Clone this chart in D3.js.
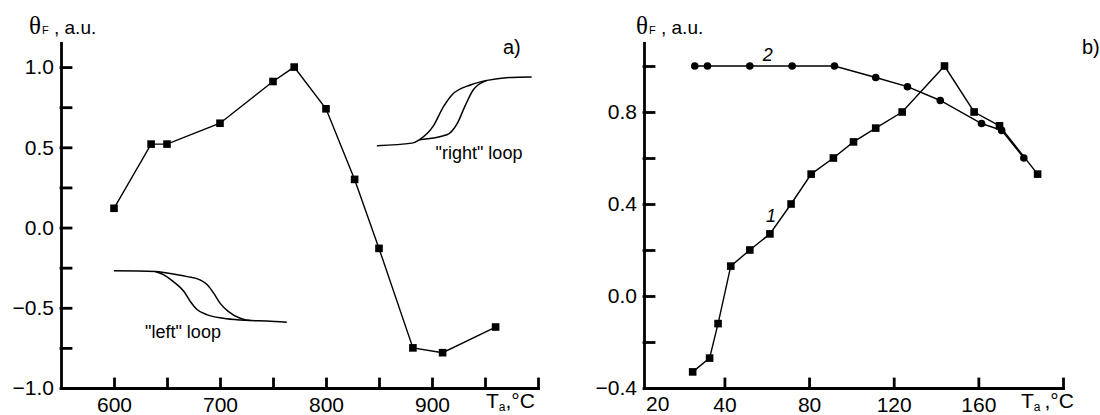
<!DOCTYPE html>
<html>
<head>
<meta charset="utf-8">
<script src="https://cdn.jsdelivr.net/npm/d3@7"></script>
<style>
body { margin: 0; background: #fff; }
svg { display: block; font-family: "Liberation Sans", Arial, sans-serif; }
</style>
</head>
<body>
<svg id="chart" width="1100" height="415"></svg>
<script>

// panel a) : annealing temperature (°C) vs theta_F
var aTemp  = [600, 635, 650, 700, 750, 770, 800, 827, 850, 882, 910, 960];
var aTheta = [0.12, 0.52, 0.52, 0.65, 0.91, 1.0, 0.74, 0.30, -0.13, -0.75, -0.78, -0.62];

// schematic hysteresis loops drawn in panel a) (temp, theta)
var leftLoopOuter  = [[600,-0.270],[639,-0.274],[650,-0.284],[669,-0.306],[681,-0.326],[688,-0.357],[694,-0.409],[700,-0.471],[708,-0.524],[719,-0.565],[729,-0.580],[744,-0.582],[763,-0.590]];
var leftLoopInner  = [[639,-0.274],[647,-0.295],[656,-0.337],[666,-0.399],[672,-0.461],[678,-0.509],[688,-0.544],[703,-0.565],[719,-0.576],[729,-0.580]];
var rightLoopUpper = [[848,0.510],[881,0.526],[888,0.547],[901,0.630],[911,0.755],[919,0.828],[937,0.890],[952,0.917],[970,0.934],[994,0.938]];
var rightLoopLower = [[888,0.547],[914,0.578],[924,0.651],[931,0.755],[939,0.859],[952,0.917]];

var aXTicks  = [600, 650, 700, 750, 800, 850, 900, 950, 1000];
var aXLabels = [600, 700, 800, 900];
var aYTicks  = [-1.0, -0.75, -0.5, -0.25, 0, 0.25, 0.5, 0.75, 1.0];
var aYLabels = [-1.0, -0.5, 0, 0.5, 1.0];

// panel b)
var bTemp1  = [25, 33, 37, 43, 52, 61.5, 71.5, 81, 91.5, 101, 111.5, 124, 144, 158, 170, 188];
var bTheta1 = [-0.33, -0.27, -0.12, 0.13, 0.20, 0.27, 0.40, 0.53, 0.60, 0.67, 0.73, 0.80, 1.0, 0.80, 0.74, 0.53];
var bTemp2  = [26, 32, 52, 72, 92, 111.5, 126.5, 142, 161.5, 171, 181.5];
var bTheta2 = [1.0, 1.0, 1.0, 1.0, 1.0, 0.95, 0.91, 0.85, 0.75, 0.72, 0.60];

var bXTicks  = [40, 80, 120, 160, 200];
var bXLabels = [40, 80, 120, 160];
var bOriginLabel = "20";
var bYTicks  = [-0.4, -0.2, 0, 0.2, 0.4, 0.6, 0.8, 1.0];
var bYLabels = [-0.4, 0, 0.4, 0.8];

var svg = d3.select("#chart");

function drawAxes(g, x, y, xTicks, xLabels, yTicks, yLabels, yFmt) {
	var y0 = y.range()[0];
	var x0 = x.range()[0];

	var xa = g.append("g")
		.attr("transform", "translate(0," + y0 + ")")
		.call(d3.axisBottom(x).tickValues(xTicks).tickSize(-9).tickSizeOuter(0).tickPadding(9)
			.tickFormat(function(d) { return xLabels.indexOf(d) >= 0 ? d : ""; }));

	var ya = g.append("g")
		.attr("transform", "translate(" + x0 + ",0)")
		.call(d3.axisLeft(y).tickValues(yTicks).tickSize(-10).tickSizeOuter(0).tickPadding(7)
			.tickFormat(function(d) { return yLabels.indexOf(d) >= 0 ? yFmt(d) : ""; }));

	[xa, ya].forEach(function(a) {
		a.attr("font-family", null).attr("font-size", 21);
		a.selectAll("path, line").attr("stroke", "#000").attr("stroke-width", 2.8).attr("stroke-linecap", "square");
		a.selectAll("text").attr("fill", "#000");
	});
}

function axisTitle(g, xPos) {
	var t = g.append("text").attr("x", xPos).attr("y", 34).attr("fill", "#000");
	t.append("tspan").attr("font-family", "Liberation Serif, serif").attr("font-size", 25).text("θ");
	t.append("tspan").attr("font-size", 11).attr("dx", 1).text("F");
	t.append("tspan").attr("font-size", 19).text(" , a.u.");
}

function tempLabel(g, xPos, gap) {
	var t = g.append("text").attr("x", xPos).attr("y", 408).attr("fill", "#000").attr("font-size", 21);
	t.append("tspan").text("T");
	t.append("tspan").attr("font-size", 12).attr("dy", 3).text("a");
	t.append("tspan").attr("dy", -3).attr("dx", gap).text(",°C");
}

function markers(g, x, y, xs, ys, shape) {
	var pts = xs.map(function(d, i) { return { t: d, v: ys[i] }; });
	g.append("path")
		.datum(pts)
		.attr("fill", "none")
		.attr("stroke", "#000")
		.attr("stroke-width", 1.4)
		.attr("d", d3.line().x(function(d) { return x(d.t); }).y(function(d) { return y(d.v); }));
	if (shape == "square") {
		g.selectAll(null).data(pts).enter().append("rect")
			.attr("x", function(d) { return x(d.t) - 3.8; })
			.attr("y", function(d) { return y(d.v) - 3.8; })
			.attr("width", 7.6).attr("height", 7.6)
			.attr("fill", "#000");
	} else {
		g.selectAll(null).data(pts).enter().append("circle")
			.attr("cx", function(d) { return x(d.t); })
			.attr("cy", function(d) { return y(d.v); })
			.attr("r", 3.8)
			.attr("fill", "#000");
	}
}

//Panel a
var xa = d3.scaleLinear().domain([550, 1000]).range([61, 538]);
var ya = d3.scaleLinear().domain([-1.0, 1.15]).range([388, 43]);
var ga = svg.append("g");

var loopLine = d3.line().curve(d3.curveMonotoneX)
	.x(function(d) { return xa(d[0]); })
	.y(function(d) { return ya(d[1]); });
[leftLoopOuter, leftLoopInner, rightLoopUpper, rightLoopLower].forEach(function(l) {
	ga.append("path").attr("d", loopLine(l)).attr("fill", "none").attr("stroke", "#000").attr("stroke-width", 1.5);
});
ga.append("text").attr("x", 183).attr("y", 338).attr("text-anchor", "middle").attr("font-size", 18).text('"left" loop');
ga.append("text").attr("x", 479).attr("y", 159).attr("text-anchor", "middle").attr("font-size", 18).text('"right" loop');

markers(ga, xa, ya, aTemp, aTheta, "square");
drawAxes(ga, xa, ya, aXTicks, aXLabels, aYTicks, aYLabels, d3.format(".1f"));
axisTitle(ga, 29);
tempLabel(ga, 486, 0);
ga.append("text").attr("x", 503).attr("y", 54).attr("font-size", 20).text("a)");

//Panel b
var xb = d3.scaleLinear().domain([2, 200]).range([644, 1063]);
var yb = d3.scaleLinear().domain([-0.4, 1.1]).range([388, 43]);
var gb = svg.append("g");

markers(gb, xb, yb, bTemp2, bTheta2, "circle");
markers(gb, xb, yb, bTemp1, bTheta1, "square");
drawAxes(gb, xb, yb, bXTicks, bXLabels, bYTicks, bYLabels, d3.format(".1f"));
gb.append("text").attr("x", xb.range()[0] + 2).attr("y", 411).attr("font-size", 21).text(bOriginLabel);
axisTitle(gb, 636);
tempLabel(gb, 1021, 4);
gb.append("text").attr("x", 1082).attr("y", 54).attr("font-size", 20).text("b)");

gb.append("text").attr("x", xb(60.5)).attr("y", yb(1.05)).attr("dy", "0.35em").attr("text-anchor", "middle")
	.attr("font-size", 18).attr("font-style", "italic").text("2");
gb.append("text").attr("x", xb(62)).attr("y", yb(0.35)).attr("dy", "0.35em").attr("text-anchor", "middle")
	.attr("font-size", 18).attr("font-style", "italic").text("1");

</script>
</body>
</html>
